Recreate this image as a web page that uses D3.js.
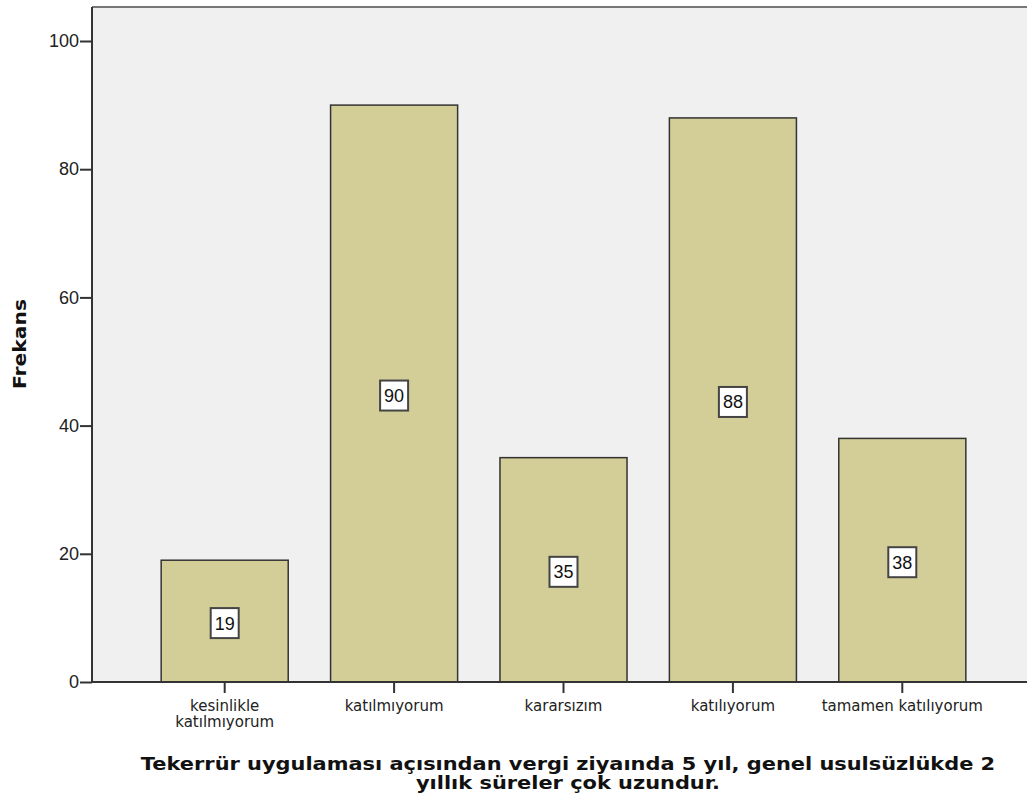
<!DOCTYPE html>
<html>
<head>
<meta charset="utf-8">
<script src="https://cdn.jsdelivr.net/npm/d3@7"></script>
<style>
  body { margin: 0; background: #fff; }
  svg { display: block; }
</style>
</head>
<body>
<svg id="chart" width="1027" height="803"></svg>
<script>
// Response categories and their frequencies
const categories = [
  ["kesinlikle", "katılmıyorum"],
  ["katılmıyorum"],
  ["kararsızım"],
  ["katılıyorum"],
  ["tamamen katılıyorum"]
];
const counts = [19, 90, 35, 88, 38];
const yTicks = [0, 20, 40, 60, 80, 100];
const yTitle = "Frekans";
const xTitle = [
  "Tekerrür uygulaması açısından vergi ziyaında 5 yıl, genel usulsüzlükde 2",
  "yıllık süreler çok uzundur."
];

const svg = d3.select("#chart");
const plot = { left: 92, top: 7, right: 1030, bottom: 682 };

const keys = categories.map(c => c.join(" "));
const x = d3.scaleBand()
  .domain(keys)
  .range([140, 987])
  .paddingInner(0.25)
  .paddingOuter(0.125);

const y = d3.scaleLinear()
  .domain([0, 100])
  .range([plot.bottom, 41]);

// plot background
svg.append("rect")
  .attr("x", plot.left).attr("y", plot.top)
  .attr("width", plot.right - plot.left).attr("height", plot.bottom - plot.top)
  .attr("fill", "#f0f0f0");

// top frame line
svg.append("line")
  .attr("x1", plot.left).attr("x2", plot.right)
  .attr("y1", plot.top).attr("y2", plot.top)
  .attr("stroke", "#777").attr("stroke-width", 2);

// bars
svg.append("g").selectAll("rect")
  .data(counts)
  .join("rect")
  .attr("x", (d, i) => x(keys[i]))
  .attr("y", d => y(d))
  .attr("width", x.bandwidth())
  .attr("height", d => y(0) - y(d))
  .attr("fill", "#d3ce97")
  .attr("stroke", "#333")
  .attr("stroke-width", 1.5);

// y axis
const yAxis = svg.append("g")
  .attr("transform", `translate(${plot.left},0)`)
  .call(d3.axisLeft(y).tickValues(yTicks).tickSize(12).tickPadding(1).tickFormat(d3.format("d")));
yAxis.select(".domain").attr("stroke", "#333").attr("stroke-width", 2)
  .attr("d", `M0,${plot.top}V${plot.bottom}`);
yAxis.selectAll(".tick line").attr("stroke", "#333").attr("stroke-width", 2);
yAxis.selectAll(".tick text")
  .attr("font-family", "Liberation Sans, Arial, sans-serif")
  .attr("font-size", 18).attr("fill", "#222");

// x axis
const xAxis = svg.append("g")
  .attr("transform", `translate(0,${plot.bottom})`)
  .call(d3.axisBottom(x).tickSize(11).tickFormat(""));
xAxis.select(".domain").attr("stroke", "#333").attr("stroke-width", 2)
  .attr("d", `M${plot.left},0H${plot.right}`);
xAxis.selectAll(".tick line").attr("stroke", "#333").attr("stroke-width", 2);
xAxis.selectAll(".tick").each(function(d, i) {
  const t = d3.select(this).append("text")
    .attr("font-family", "DejaVu Sans, sans-serif")
    .attr("font-size", 15).attr("fill", "#222")
    .attr("text-anchor", "middle");
  categories[i].forEach((line, j) => {
    t.append("tspan").attr("x", 0).attr("y", 29 + j * 16).text(line);
  });
});

// value labels
const lab = svg.append("g").selectAll("g")
  .data(counts)
  .join("g")
  .attr("transform", (d, i) => `translate(${x(keys[i]) + x.bandwidth() / 2},${y(d / 2) + 2})`);
lab.append("rect")
  .attr("x", -14).attr("y", -15).attr("width", 28).attr("height", 30)
  .attr("fill", "#fff").attr("stroke", "#444").attr("stroke-width", 2);
lab.append("text")
  .attr("text-anchor", "middle").attr("dy", "0.36em")
  .attr("font-family", "Liberation Sans, Arial, sans-serif")
  .attr("font-size", 18).attr("fill", "#111")
  .text(d => d);

// axis titles
svg.append("text")
  .attr("transform", `translate(26,344) rotate(-90)`)
  .attr("text-anchor", "middle")
  .attr("font-family", "DejaVu Sans, sans-serif")
  .attr("font-weight", "bold").attr("font-size", 18).attr("fill", "#111")
  .attr("textLength", 90).attr("lengthAdjust", "spacingAndGlyphs")
  .text(yTitle);

// two-line x title, widened horizontally
const xt = svg.append("g")
  .attr("transform", "translate(568,0) scale(1.23,1)")
  .append("text")
  .attr("text-anchor", "middle")
  .attr("font-family", "DejaVu Sans, sans-serif")
  .attr("font-weight", "bold").attr("font-size", 17).attr("fill", "#111");
xTitle.forEach((line, j) => {
  xt.append("tspan").attr("x", 0).attr("y", 770 + j * 19.5).text(line);
});
</script>
</body>
</html>
